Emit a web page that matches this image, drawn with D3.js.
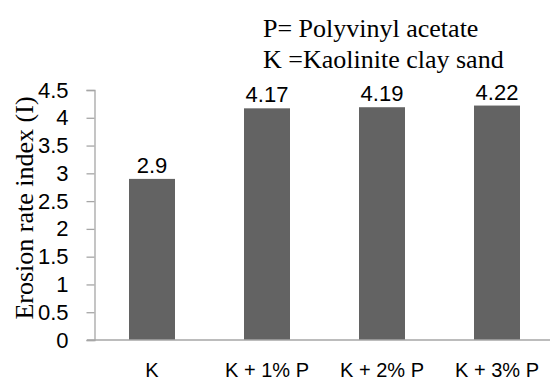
<!DOCTYPE html>
<html>
  <head>
    <meta charset="utf-8">
    <script src="https://d3js.org/d3.v7.min.js"></script>
    <style>
      body { margin: 0; background-color: white; }
      svg { display: block; }
    </style>
  </head>
  <body>
    <div id="chart"></div>
    <script>
      var categories = ['K', 'K + 1% P', 'K + 2% P', 'K + 3% P'];
      var values = [2.9, 4.17, 4.19, 4.22];
      var yTicks = [0, 0.5, 1, 1.5, 2, 2.5, 3, 3.5, 4, 4.5];
      var notes = ['P= Polyvinyl acetate', 'K =Kaolinite clay sand'];

      var width = 550, height = 383;
      var axisColor = '#a6a6a6';
      var sans = '"Liberation Sans", Arial, sans-serif';
      var serif = '"Liberation Serif", "Times New Roman", serif';

      var svg = d3.select('#chart').append('svg')
        .attr('width', width)
        .attr('height', height);

      var x = d3.scaleBand().domain(categories).range([94.5, 554.5])
        .paddingInner(0.6).paddingOuter(0.3);
      var y = d3.scaleLinear().domain([0, 4.5]).range([340, 90]);

      // bars
      svg.selectAll('rect.bar')
        .data(values)
        .enter().append('rect')
          .attr('class', 'bar')
          .attr('x', function(d, i) { return x(categories[i]); })
          .attr('y', function(d) { return y(d); })
          .attr('width', x.bandwidth())
          .attr('height', function(d) { return y(0) - y(d); })
          .attr('fill', '#636363');

      // value labels
      svg.selectAll('text.val')
        .data(values)
        .enter().append('text')
          .attr('class', 'val')
          .attr('x', function(d, i) { return x(categories[i]) + x.bandwidth() / 2; })
          .attr('y', function(d) { return y(d) - 6; })
          .attr('text-anchor', 'middle')
          .style('font-family', sans)
          .style('font-size', '22px')
          .text(function(d) { return d; });

      // y axis
      var yAxis = svg.append('g')
        .attr('transform', 'translate(94.5,0)')
        .call(d3.axisLeft(y).tickValues(yTicks).tickSize(8).tickPadding(18)
          .tickFormat(function(d) { return d; }));
      yAxis.select('.domain').attr('stroke', axisColor).attr('stroke-width', 1.3);
      yAxis.selectAll('.tick line').attr('stroke', axisColor).attr('stroke-width', 1.3);
      yAxis.selectAll('.tick text')
        .attr('fill', '#000')
        .style('font-family', sans)
        .style('font-size', '22px');

      // x axis line
      svg.append('line')
        .attr('x1', 87).attr('x2', width)
        .attr('y1', y(0)).attr('y2', y(0))
        .attr('stroke', axisColor).attr('stroke-width', 1.3);

      // category labels
      svg.selectAll('text.cat')
        .data(categories)
        .enter().append('text')
          .attr('class', 'cat')
          .attr('x', function(d) { return x(d) + x.bandwidth() / 2; })
          .attr('y', 377)
          .attr('text-anchor', 'middle')
          .style('font-family', sans)
          .style('font-size', '20px')
          .text(function(d) { return d; });

      // y axis title
      svg.append('text')
        .attr('transform', 'translate(33,208) rotate(-90)')
        .attr('text-anchor', 'middle')
        .style('font-family', serif)
        .style('font-size', '26px')
        .text('Erosion rate index (I)');

      // notes
      svg.selectAll('text.note')
        .data(notes)
        .enter().append('text')
          .attr('class', 'note')
          .attr('x', 263)
          .attr('y', function(d, i) { return 37 + i * 31; })
          .style('font-family', serif)
          .style('font-size', '26px')
          .text(function(d) { return d; });
    </script>
  </body>
</html>
